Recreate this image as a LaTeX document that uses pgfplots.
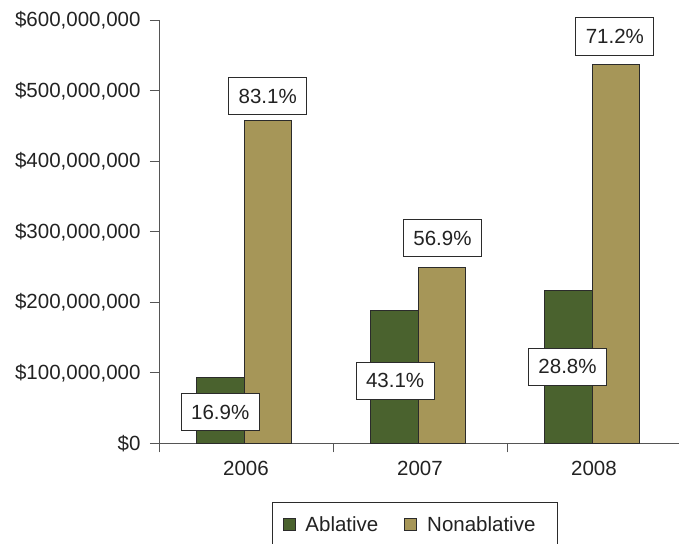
\documentclass[border=0pt]{standalone}
\usepackage{pgfplots}
\pgfplotsset{compat=1.18}
\usepackage{fontspec}
\setmainfont{Liberation Sans}

\definecolor{ablative}{HTML}{4A622E}
\definecolor{nonablative}{HTML}{A69658}
\definecolor{edge}{HTML}{2B2B2B}
\definecolor{axisgray}{HTML}{555555}
\definecolor{txt}{HTML}{222222}

\newcommand{\chartfont}{\fontsize{20.5bp}{24bp}\selectfont}

\pgfplotsset{
  sqlegend/.style={legend image code/.code={%
    \draw[##1,line width=0.8bp] (0bp,-6bp) rectangle (12bp,6bp);}},
}

\begin{document}
\begin{tikzpicture}
\useasboundingbox (0,0) rectangle (679bp,544bp);
\begin{axis}[
  at={(159bp,100.7bp)}, anchor=south west,
  scale only axis, width=522bp, height=422.8bp,
  xmin=-0.5, xmax=2.5, ymin=0, ymax=600,
  axis x line=bottom, axis y line=left,
  axis line style={-, axisgray, line width=1bp},
  tick align=outside, major tick length=9bp,
  every tick/.style={axisgray, line width=1bp},
  xtick={-0.5,0.5,1.5}, xticklabels={2006,2007,2008},
  x tick label style={xshift=87bp, yshift=-5bp},
  ytick={0,100,200,300,400,500,600},
  yticklabels={{\$0},{\$100,000,000},{\$200,000,000},{\$300,000,000},{\$400,000,000},{\$500,000,000},{\$600,000,000}},
  y tick label style={xshift=-6bp},
  tick label style={font=\chartfont, text=txt},
  /pgf/number format/assume math mode=true,
  clip=false,
  legend columns=2,
  legend cell align=left,
  legend style={at={(0.217,-0.1395)}, anchor=north west,
    draw=edge, line width=0.8bp, fill=white,
    inner xsep=10bp, inner ysep=14bp,
    font=\chartfont, text=txt,
    nodes={inner sep=0pt, anchor=west},
    /tikz/every odd column/.append style={column sep=10bp},
    /tikz/every even column/.append style={column sep=26bp}},
]
% spending in millions of dollars
\addplot[ybar, bar width=47.6bp, bar shift=-25.8bp, fill=ablative, draw=edge, line width=0.9bp, sqlegend]
  coordinates {(0,93.6) (1,188.7) (2,217.0)};
\addlegendentry{Ablative}
\addplot[ybar, bar width=47.6bp, bar shift=21.8bp, fill=nonablative, draw=edge, line width=0.9bp, sqlegend]
  coordinates {(0,458.6) (1,249.6) (2,538.0)};
\addlegendentry{Nonablative\hspace*{12bp}}
% share of each year's total
\addplot[draw=none, mark=none, forget plot,
  nodes near coords, point meta=explicit symbolic,
  nodes near coords align={center},
  every node near coord/.style={draw=edge, fill=white, line width=0.8bp,
    minimum width=78bp, minimum height=37.5bp, inner sep=0pt,
    anchor=center, font=\chartfont, text=txt}]
  coordinates {
    (-0.148,44.4) [16.9\%]
    (0.125,492.8) [83.1\%]
    (0.857,88.7) [43.1\%]
    (1.129,291.3) [56.9\%]
    (1.848,108.7) [28.8\%]
    (2.120,577.3) [71.2\%]
  };
\end{axis}
\end{tikzpicture}
\end{document}
